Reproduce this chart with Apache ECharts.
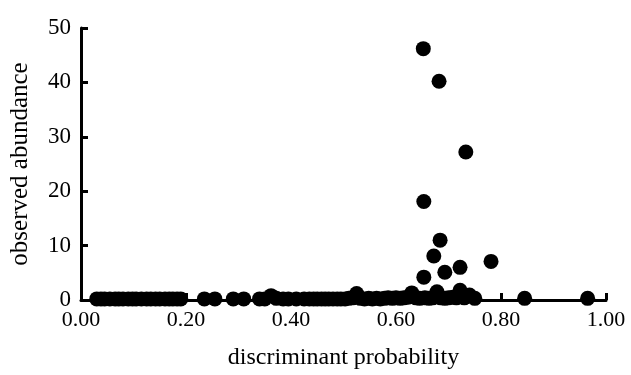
<!DOCTYPE html>
<html>
<head>
<meta charset="utf-8">
<script src="https://cdn.jsdelivr.net/npm/echarts@6/dist/echarts.min.js"></script>
<style>
html,body{margin:0;padding:0;background:#fff;}
#chart{width:631px;height:375px;}
</style>
</head>
<body>
<div id="chart"></div>
<script>
// discriminant probability (x) and observed abundance (y) for each observation
var probability = [
  0.03, 0.038, 0.045, 0.055, 0.065, 0.072, 0.08, 0.09, 0.098, 0.105, 0.115, 0.125,
  0.133, 0.142, 0.15, 0.16, 0.168, 0.175, 0.183, 0.19,
  0.235, 0.255, 0.29, 0.31,
  0.34, 0.35, 0.362, 0.372, 0.385, 0.395, 0.41, 0.425, 0.435, 0.443, 0.45, 0.458,
  0.465, 0.472, 0.48, 0.488, 0.495, 0.503, 0.51, 0.518, 0.525, 0.532, 0.54, 0.548,
  0.555, 0.563, 0.57, 0.578, 0.585, 0.593, 0.60, 0.608, 0.615, 0.623, 0.63,
  0.638, 0.645, 0.655, 0.663, 0.67, 0.678, 0.685, 0.693, 0.70, 0.708, 0.715,
  0.722, 0.73, 0.74, 0.75,
  0.845, 0.965,
  0.652, 0.682, 0.733, 0.653, 0.684, 0.672, 0.693, 0.653, 0.722, 0.781
];
var abundance = [
  0.2, 0.2, 0.2, 0.2, 0.2, 0.2, 0.2, 0.2, 0.2, 0.2, 0.2, 0.2,
  0.2, 0.2, 0.2, 0.2, 0.2, 0.2, 0.2, 0.2,
  0.2, 0.2, 0.2, 0.2,
  0.2, 0.2, 0.8, 0.3, 0.2, 0.2, 0.2, 0.2, 0.2, 0.2, 0.2, 0.2,
  0.2, 0.2, 0.2, 0.2, 0.2, 0.2, 0.3, 0.4, 1.2, 0.3, 0.2, 0.3,
  0.2, 0.3, 0.2, 0.3, 0.4, 0.3, 0.4, 0.3, 0.4, 0.5, 1.3,
  0.4, 0.3, 0.4, 0.3, 0.4, 1.5, 0.4, 0.3, 0.4, 0.5, 0.4,
  1.8, 0.4, 0.9, 0.3,
  0.3, 0.3,
  46.2, 40.2, 27.2, 18.1, 11.0, 8.1, 5.1, 4.2, 6.0, 7.1
];
var xTicks = [0, 0.2, 0.4, 0.6, 0.8, 1.0];
var yTicks = [0, 10, 20, 30, 40, 50];

var points = probability.map(function (p, i) { return [p, abundance[i]]; });
var FONT = 'Liberation Serif';

var chart = echarts.init(document.getElementById('chart'), null, {renderer: 'canvas'});
chart.setOption({
  animation: false,
  backgroundColor: '#ffffff',
  grid: {left: 81, right: 25, top: 28, bottom: 75},
  xAxis: {
    type: 'value',
    min: xTicks[0], max: xTicks[xTicks.length - 1], interval: 0.2,
    name: 'discriminant probability',
    nameLocation: 'middle', nameGap: 46,
    nameTextStyle: {fontFamily: FONT, fontSize: 24, color: '#000'},
    axisLine: {show: true, lineStyle: {color: '#000', width: 3}},
    axisTick: {show: true, inside: true, length: 7, lineStyle: {color: '#000', width: 3}},
    axisLabel: {fontFamily: FONT, fontSize: 22, color: '#000', margin: 9,
      formatter: function (v) { return v.toFixed(2); }},
    splitLine: {show: false}
  },
  yAxis: {
    type: 'value',
    min: yTicks[0], max: yTicks[yTicks.length - 1], interval: 10,
    name: 'observed abundance',
    nameLocation: 'middle', nameGap: 48,
    nameTextStyle: {fontFamily: FONT, fontSize: 25, color: '#000'},
    axisLine: {show: true, lineStyle: {color: '#000', width: 3}},
    axisTick: {show: true, inside: true, length: 7, lineStyle: {color: '#000', width: 3}},
    axisLabel: {fontFamily: FONT, fontSize: 23, color: '#000', margin: 10},
    splitLine: {show: false}
  },
  series: [{
    type: 'scatter',
    data: points,
    symbol: 'circle',
    symbolSize: 15,
    itemStyle: {color: '#000', opacity: 1},
    clip: false
  }]
});
</script>
</body>
</html>
